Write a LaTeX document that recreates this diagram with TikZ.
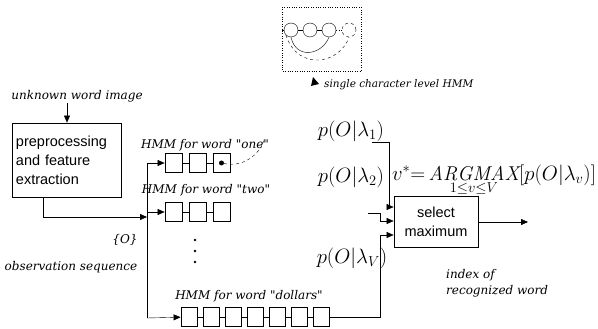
\documentclass[tikz,border=0pt]{standalone}
\usepackage{fontspec}
\setsansfont{Liberation Sans}
\newfontfamily\labfont{DejaVu Serif}
\usetikzlibrary{arrows.meta}
\tikzset{
  lbl/.style={font=\labfont\itshape\fontsize{12}{16}\selectfont, inner sep=1pt},
  blk/.style={draw, thick, font=\sffamily\fontsize{14.5}{19}\selectfont, align=left},
  st/.style={draw, thick, minimum width=17pt, minimum height=19pt, inner sep=0pt},
  chr/.style={draw, circle, minimum size=14pt, inner sep=0pt},
  prob/.style={font=\fontsize{21}{23}\selectfont, inner sep=0pt},
  >={Triangle[length=7pt,width=6pt]}
}
\begin{document}
\begin{tikzpicture}[x=1pt,y=-1pt]
\useasboundingbox (0,0) rectangle (598,329);
\draw[dotted] (282,7) rectangle (361,71);
\node[chr] (c1) at (291,30) {};
\node[chr] (c2) at (310,30) {};
\node[chr] (c3) at (329,30) {};
\node[chr, dashed] (c4) at (349,30) {};
\coordinate (cin) at (282,30);
\draw (cin) -- (c1) (c1) -- (c2) (c2) -- (c3);
\draw[dotted] (c3) -- (c4);
\draw (c1.south) .. controls (296,60) and (322,55) .. (c3.south);
\draw[dashed] (c1.south west) .. controls (298,72) and (340,64) .. (c4.south);
\coordinate (tip) at (313,77);
\fill (tip) -- (311,86) -- (319,84) -- cycle;
\node[lbl, font=\labfont\itshape\fontsize{10.5}{12}\selectfont, anchor=west] (chrlbl) at (323,85) {single character level HMM};
\node[lbl] (img) at (77,96) {unknown word image};
\node[blk, text width=102pt, minimum height=74pt] (prep) at (67,160) {preprocessing\\and feature\\extraction};
\draw[->] (img.south -| prep.north) -- (prep.north);
\coordinate (pout) at ([xshift=-24pt]prep.south);
\coordinate (btop) at (147,163);
\coordinate (bin) at (147,217);
\coordinate (bbot) at (147,318);
\draw (btop) -- (bbot);
\draw[->] (pout) |- (bin);
\node[lbl] (obs) at (125,240) {\{O\}};
\node[lbl] (seq) at (71,267) {observation sequence};
\node[lbl] (lone) at (205,145) {HMM for word "one"};
\foreach \i in {1,2,3} \node[st] (o\i) at (149.5+24*\i,163) {};
\draw (o1) -- (o2) (o2) -- (o3);
\node[circle, fill, inner sep=0pt, minimum size=5pt] (dot) at (o3) {};
\node[lbl] (ltwo) at (206,190) {HMM for word "two"};
\foreach \i in {1,2,3} \node[st] (t\i) at (149.5+24*\i,212) {};
\draw (t1) -- (t2) (t2) -- (t3);
\foreach \y in {240,251,262} \fill (195,\y) circle (1.3pt);
\node[lbl] (ldol) at (249,296) {HMM for word "dollars"};
\foreach \i in {1,...,7} \node[st, minimum width=16pt] (d\i) at (167+22*\i,317) {};
\foreach \i [count=\j from 2] in {1,...,6} \draw (d\i) -- (d\j);
\draw[->] (btop) -- (o1);
\draw[->] (btop |- t1) -- (t1);
\draw[->] (bbot) -- (d1);
\coordinate (zoom) at (265,137);
\draw[dashed] (dot) .. controls (245,168) and (262,152) .. (zoom);
\node[prob] (p1) at (351,131) {$p(O|\lambda_1)$};
\node[prob] (p2) at (351,177) {$p(O|\lambda_2)$};
\node[prob] (pv) at (352,258) {$p(O|\lambda_V)$};
\node[prob, font=\fontsize{20}{22}\selectfont] (eq) at (494,180) {$v^{*}{=}\mathop{\mathit{ARGMAX}}\limits_{1\le v\le V}[p(O|\lambda_v)]$};
\node[blk, align=center, minimum width=84pt, minimum height=51pt] (sel) at (436,222) {select\\maximum};
\coordinate (a1) at (372,142);
\coordinate (a2) at (368,213);
\draw[->] (a1) -- (389,142) -- (389,207) -- (sel.west |- 0,207);
\draw[->] (a2) -- (380,213) -- (380,221) -- (sel.west |- 0,221);
\draw[->] (d7) -| (380,235) -- (sel.west |- 0,235);
\coordinate (out) at (528,222);
\draw[->] (sel) -- (out);
\node[lbl, anchor=west, align=left] (idx) at (445,283) {index of\\recognized word};
\end{tikzpicture}
\end{document}
